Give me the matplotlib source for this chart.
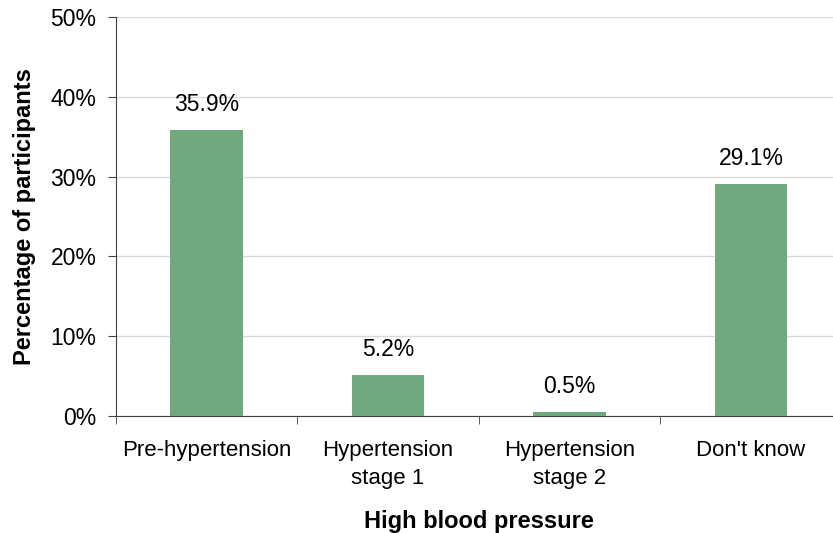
import matplotlib
matplotlib.use('Agg')
import matplotlib.pyplot as plt
import numpy as np
from matplotlib.ticker import FixedLocator, PercentFormatter

categories = ['Pre-hypertension', 'Hypertension\nstage 1', 'Hypertension\nstage 2', "Don't know"]
values = [35.9, 5.2, 0.5, 29.1]
value_labels = ['35.9%', '5.2%', '0.5%', '29.1%']
y_ticks = [0, 10, 20, 30, 40, 50]

plt.rcParams['font.family'] = ['Liberation Sans', 'DejaVu Sans']

fig = plt.figure(figsize=(8.33, 5.33), dpi=100)
ax = fig.add_axes([0.139, 0.2195, 0.8715, 0.7485])

x = np.arange(len(categories))
bars = ax.bar(x, values, width=0.40, color='#71a97f', zorder=3)

# value labels above bars
for rect, lab in zip(bars, value_labels):
    ax.annotate(lab, (rect.get_x() + rect.get_width() / 2, rect.get_height()),
                xytext=(0, 10), textcoords='offset points',
                ha='center', va='bottom', fontsize=16.5)

ax.set_xlim(-0.5, len(categories) - 0.5)
ax.set_ylim(0, 50)
ax.set_yticks(y_ticks)
ax.yaxis.set_major_formatter(PercentFormatter(decimals=0))
ax.grid(axis='y', color='#d9d9d9', linewidth=1, zorder=0)

ax.set_xticks(x)
ax.set_xticklabels(categories, fontsize=16, linespacing=1.45)
ax.xaxis.set_minor_locator(FixedLocator(np.arange(len(categories) + 1) - 0.5))
ax.tick_params(axis='x', which='major', length=0, pad=17)
ax.tick_params(axis='x', which='minor', length=6, color='#404040', direction='out')
ax.tick_params(axis='y', length=6, color='#404040', labelsize=16.5, pad=8)

for s in ['top', 'right']:
    ax.spines[s].set_visible(False)
ax.spines['left'].set_color('#404040')
ax.spines['bottom'].set_color('#404040')

ax.set_ylabel('Percentage of participants', fontsize=17, fontweight='bold', labelpad=10)
ax.set_xlabel('High blood pressure', fontsize=17, fontweight='bold', labelpad=15)

fig.savefig('out.png', dpi=100)
